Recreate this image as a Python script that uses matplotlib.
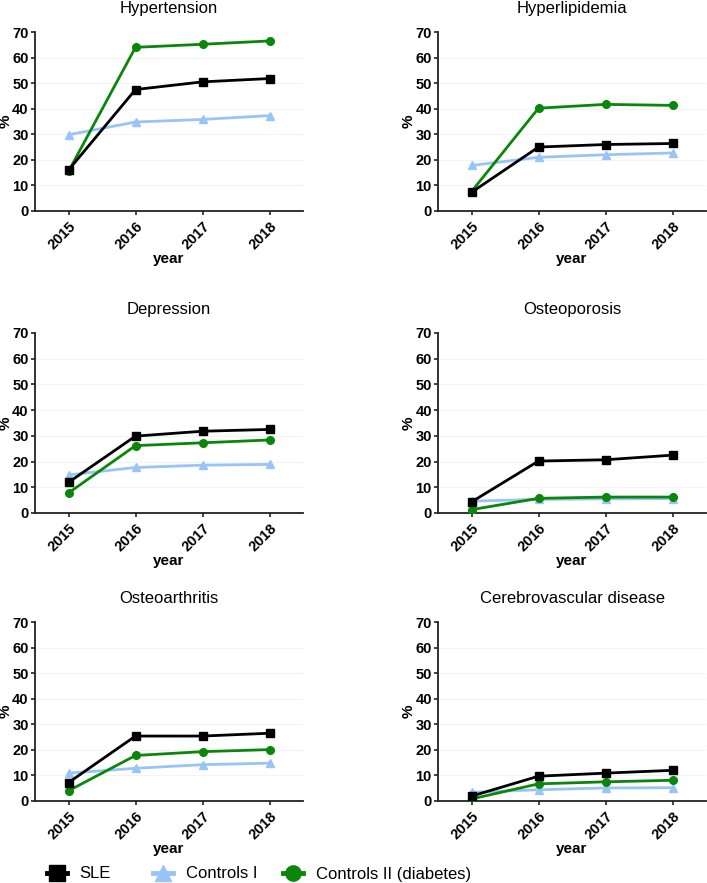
import matplotlib
matplotlib.use("Agg")
import matplotlib.pyplot as plt
from matplotlib.lines import Line2D

plt.rcParams['font.family'] = ['Liberation Sans', 'DejaVu Sans']

years = [2015, 2016, 2017, 2018]
series_names = ["SLE", "Controls I", "Controls II (diabetes)"]

titles = ["Hypertension", "Hyperlipidemia", "Depression", "Osteoporosis",
          "Osteoarthritis", "Cerebrovascular disease"]

sle = {
    "Hypertension": [16.0, 47.5, 50.5, 51.8],
    "Hyperlipidemia": [7.3, 25.0, 26.0, 26.4],
    "Depression": [11.9, 29.9, 31.8, 32.5],
    "Osteoporosis": [4.3, 20.2, 20.7, 22.5],
    "Osteoarthritis": [7.2, 25.4, 25.4, 26.5],
    "Cerebrovascular disease": [1.9, 9.7, 10.9, 12.0],
}
controls_1 = {
    "Hypertension": [29.8, 34.8, 35.8, 37.3],
    "Hyperlipidemia": [17.8, 21.0, 22.0, 22.7],
    "Depression": [14.8, 17.7, 18.6, 18.9],
    "Osteoporosis": [4.6, 5.3, 5.5, 5.6],
    "Osteoarthritis": [10.9, 12.8, 14.2, 14.8],
    "Cerebrovascular disease": [3.4, 4.4, 5.1, 5.2],
}
controls_2 = {
    "Hypertension": [15.5, 64.0, 65.2, 66.5],
    "Hyperlipidemia": [7.6, 40.2, 41.7, 41.3],
    "Depression": [7.8, 26.2, 27.3, 28.4],
    "Osteoporosis": [1.3, 5.7, 6.2, 6.2],
    "Osteoarthritis": [4.0, 17.8, 19.3, 20.1],
    "Cerebrovascular disease": [0.8, 6.7, 7.5, 8.1],
}

yticks = [0, 10, 20, 30, 40, 50, 60, 70]

C_BLACK = "#000000"
C_BLUE = "#99c4f8"
C_GREEN = "#0a870a"

fig = plt.figure(figsize=(7.07, 8.83), dpi=100)
W, H = 707.0, 883.0
lefts = [35, 438]
width = 268
rows = [(32, 211), (333, 513), (622, 801)]

for i, t in enumerate(titles):
    r, c = divmod(i, 2)
    top, bot = rows[r]
    ax = fig.add_axes([lefts[c] / W, 1 - bot / H, width / W, (bot - top) / H])
    for y in yticks[1:-1]:
        ax.axhline(y, color="#f3f3f3", lw=0.8, zorder=0)
    ax.plot(years, controls_1[t], color=C_BLUE, lw=2, marker="^", ms=5.5, zorder=3)
    ax.plot(years, controls_2[t], color=C_GREEN, lw=2, marker="o", ms=5.5, zorder=4)
    ax.plot(years, sle[t], color=C_BLACK, lw=2, marker="s", ms=6, zorder=5)
    ax.set_xlim(2014.5, 2018.5)
    ax.set_ylim(0, 70)
    ax.set_yticks(yticks)
    ax.set_xticks(years)
    ax.set_xticklabels([str(y) for y in years], rotation=45, ha="right",
                       rotation_mode="anchor", fontweight="bold", fontsize=10.5)
    ax.set_yticklabels([str(y) for y in yticks], fontweight="bold", fontsize=10.5)
    for s in ["top", "right"]:
        ax.spines[s].set_visible(False)
    for s in ["left", "bottom"]:
        ax.spines[s].set_linewidth(1.3)
        ax.spines[s].set_color("#222222")
    ax.tick_params(axis="both", length=3, width=1.2, color="#222222", pad=1.5)
    ax.tick_params(axis="x", pad=3)
    ax.set_title(t, fontsize=12, pad=14)
    ax.set_xlabel("year", fontweight="bold", fontsize=11, labelpad=0)
    ax.set_ylabel("%", fontweight="bold", fontsize=11)
    ax.yaxis.set_label_coords(-22.5 / width, 0.5)

handles = [
    Line2D([], [], color=C_BLACK, lw=3.5, marker="s", ms=11),
    Line2D([], [], color=C_BLUE, lw=3.5, marker="^", ms=12),
    Line2D([], [], color=C_GREEN, lw=3.5, marker="o", ms=11),
]
legend_x = [47, 153, 283]
for h, name, lx in zip(handles, series_names, legend_x):
    leg = fig.legend([h], [name], loc="center left",
                     bbox_to_anchor=(lx / W, 1 - 874 / H), frameon=False,
                     fontsize=12, handlelength=1.2, handletextpad=0.75,
                     borderaxespad=0, borderpad=0)

fig.savefig("out.png", dpi=100)
